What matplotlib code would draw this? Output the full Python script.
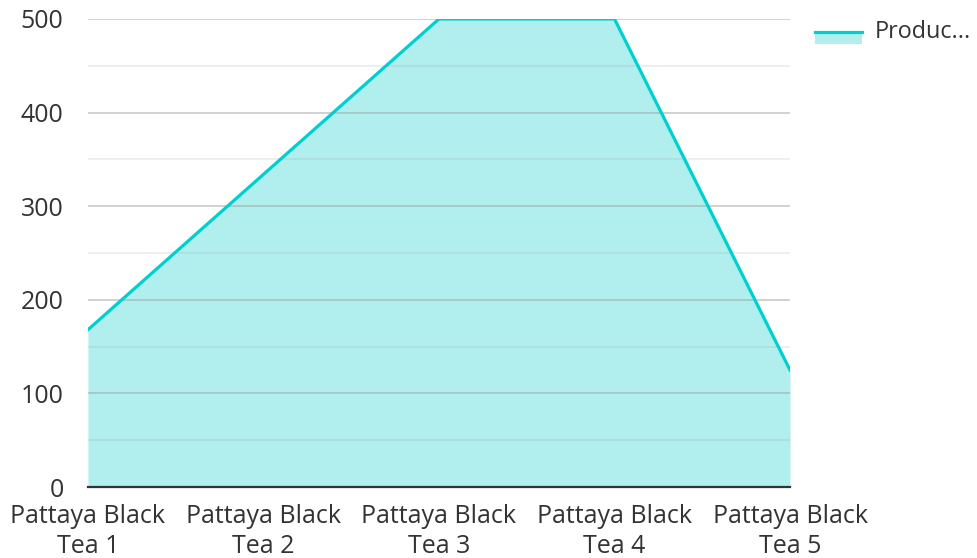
import matplotlib.pyplot as plt
from matplotlib.patches import Rectangle
from matplotlib.lines import Line2D

plt.rcParams['font.family'] = ['Open Sans', 'DejaVu Sans']

teas = ['Pattaya Black\nTea 1', 'Pattaya Black\nTea 2', 'Pattaya Black\nTea 3',
        'Pattaya Black\nTea 4', 'Pattaya Black\nTea 5']
production = [168, 334, 500, 500, 125]
series_name = 'Produc...'

line_col = '#00cfd0'
fill_col = '#b0efee'
text_col = '#333333'

fig = plt.figure(figsize=(9.77, 5.58), dpi=100)
ax = fig.add_axes([0.090, 0.1272, 0.7186, 0.8388])

x = list(range(len(teas)))
ax.fill_between(x, production, 0, color=fill_col, linewidth=0, zorder=1)
ax.plot(x, production, color=line_col, linewidth=2.3, zorder=3)

# grid: major every 100, minor every 50
for v in range(50, 500, 100):
    ax.axhline(v, color='#9e9e9e', alpha=0.2, linewidth=1.2, zorder=2)
for v in range(100, 501, 100):
    ax.axhline(v, color='#9e9e9e', alpha=0.55, linewidth=1.2, zorder=2)

ax.set_xlim(0, len(teas) - 1)
ax.set_ylim(0, 500)
ax.set_yticks(range(0, 501, 100))
ax.set_xticks(x)
ax.set_xticklabels(teas, linespacing=1.3)

for s in ['top', 'right', 'left']:
    ax.spines[s].set_visible(False)
ax.spines['bottom'].set_color(text_col)
ax.spines['bottom'].set_linewidth(1.6)
ax.spines['bottom'].set_zorder(4)

ax.tick_params(axis='both', length=0, labelsize=18, colors=text_col)
ax.tick_params(axis='y', pad=17.5)
ax.tick_params(axis='x', pad=12)

# legend drawn by hand: line over a filled swatch
fig.add_artist(Rectangle((815 / 977, 1 - 44 / 558), 47 / 977, 13 / 558,
                         transform=fig.transFigure, color=fill_col, linewidth=0))
fig.add_artist(Line2D([815 / 977, 862 / 977], [1 - 32 / 558, 1 - 32 / 558],
                      transform=fig.transFigure, color=line_col, linewidth=2.3))
fig.text(875 / 977, 1 - 32 / 558, series_name, fontsize=16.8, color=text_col,
         va='center', ha='left')

fig.savefig('out.png', dpi=100)
